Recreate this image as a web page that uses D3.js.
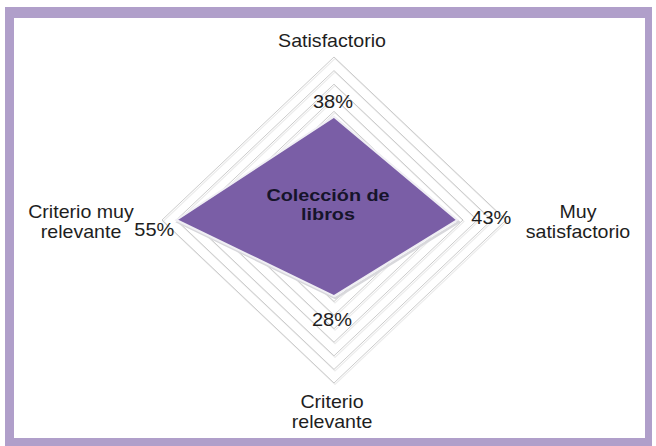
<!DOCTYPE html>
<html>
<head>
<meta charset="utf-8">
<script src="https://cdn.jsdelivr.net/npm/d3@7"></script>
<style>
  html, body { margin: 0; padding: 0; background: #ffffff; }
  svg { display: block; }
  text { font-family: "Liberation Sans", Arial, sans-serif; }
</style>
</head>
<body>
<svg id="chart" width="656" height="446"></svg>
<script>
// ---- data ----
const categories = ["Satisfactorio", "Muy satisfactorio", "Criterio relevante", "Criterio muy relevante"];
const categoryLines = [["Satisfactorio"], ["Muy", "satisfactorio"], ["Criterio", "relevante"], ["Criterio muy", "relevante"]];
const values = [38, 43, 28, 55];
const gridLevels = [5, 10, 15, 20, 25, 30, 35, 40, 45, 50, 55, 60];
const centerTitle = ["Colección de", "libros"];

// ---- layout ----
const cx = 334, cy = 220;
const rX = 172, rY = 163;
const svg = d3.select("#chart");

// frame
svg.append("rect").attr("x", 5).attr("y", 7).attr("width", 647).attr("height", 439).attr("fill", "#b09fca");
svg.append("rect").attr("x", 14).attr("y", 18).attr("width", 631).attr("height", 420).attr("fill", "#ffffff");

const sx = d3.scaleLinear().domain([0, 60]).range([0, rX]);
const sy = d3.scaleLinear().domain([0, 60]).range([0, rY]);
const angle = d3.scalePoint().domain(categories).range([0, 2 * Math.PI * 3 / 4]);

function pt(cat, v) {
  const a = angle(cat);
  return [cx + sx(v) * Math.sin(a), cy - sy(v) * Math.cos(a)];
}
const line = d3.line().curve(d3.curveLinearClosed);

// grid rings
const g = svg.append("g");
g.selectAll("path.shadow").data(gridLevels).join("path")
  .attr("d", lv => line(categories.map(c => pt(c, lv))))
  .attr("transform", "translate(1,1.5)")
  .attr("fill", "none").attr("stroke", "#ececec").attr("stroke-width", 1.2);
g.selectAll("path.ring").data(gridLevels).join("path")
  .attr("d", lv => line(categories.map(c => pt(c, lv))))
  .attr("fill", "none").attr("stroke", "#c6c6c6").attr("stroke-width", 0.9);

// data polygon
const polyPts = categories.map((c, i) => pt(c, values[i]));
svg.append("path").attr("d", line(polyPts))
  .attr("transform", "translate(1.5,2)")
  .attr("fill", "none").attr("stroke", "#d8d8dc").attr("stroke-width", 2.5);
svg.append("path").attr("d", line(polyPts))
  .attr("fill", "#7a5ea6").attr("stroke", "#f0eff4").attr("stroke-width", 2);

// axis labels (one text per line, slightly widened like the reference)
const labelPos = [
  { x: 332, y: 47 },
  { x: 578, y: 218 },
  { x: 332, y: 408 },
  { x: 81, y: 218 }
];
categories.forEach((c, i) => {
  categoryLines[i].forEach((ln, j) => {
    svg.append("text")
      .attr("transform", `translate(${labelPos[i].x},${labelPos[i].y + j * 19.5}) scale(1.06,1)`)
      .attr("text-anchor", "middle")
      .attr("font-size", 18.5).attr("fill", "#1e1e1e")
      .text(ln);
  });
});

// data labels
const dataOffsets = [
  { dx: -1, dy: -9, anchor: "middle" },
  { dx: 14, dy: 4, anchor: "start" },
  { dx: -2, dy: 30, anchor: "middle" },
  { dx: -2, dy: 16, anchor: "end" }
];
categories.forEach((c, i) => {
  const [px, py] = polyPts[i];
  svg.append("text")
    .attr("transform", `translate(${px + dataOffsets[i].dx},${py + dataOffsets[i].dy}) scale(1.08,1)`)
    .attr("text-anchor", dataOffsets[i].anchor)
    .attr("font-size", 18.5).attr("fill", "#1e1e1e")
    .text(values[i] + "%");
});

// center title
centerTitle.forEach((ln, j) => {
  svg.append("text")
    .attr("transform", `translate(328,${201 + j * 19}) scale(1.2,1)`)
    .attr("text-anchor", "middle")
    .attr("font-size", 16.5).attr("font-weight", "bold").attr("fill", "#16142a")
    .text(ln);
});
</script>
</body>
</html>
